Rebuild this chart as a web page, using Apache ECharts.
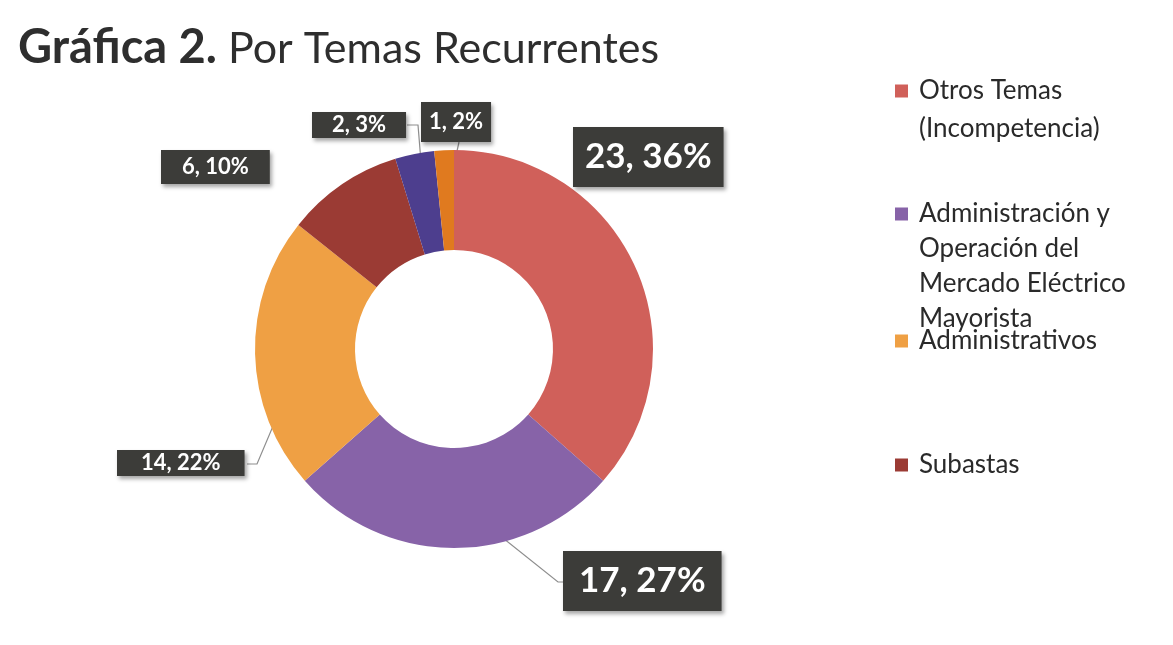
<!DOCTYPE html>
<html>
<head>
<meta charset="utf-8">
<script src="https://cdn.jsdelivr.net/npm/echarts@6/dist/echarts.min.js"></script>
<style>
  html, body { margin: 0; padding: 0; background: #fff; }
  #chart { width: 1173px; height: 645px; }
</style>
</head>
<body>
<div id="chart"></div>
<script>
// data
const categories = [
  'Otros Temas (Incompetencia)',
  'Administración y Operación del Mercado Eléctrico Mayorista',
  'Administrativos',
  'Subastas',
  'Tema 5',
  'Tema 6'
];
const values = [23, 17, 14, 6, 2, 1];
const sliceColors = ['#d0605a', '#8763a8', '#efa044', '#9b3b34', '#4d3e8e', '#e07a1f'];

// legend text as it wraps in the picture (only four entries are visible)
const legendLines = [
  ['Otros Temas', '(Incompetencia)'],
  ['Administración y', 'Operación del', 'Mercado Eléctrico', 'Mayorista'],
  ['Administrativos'],
  ['Subastas']
];

// layout only: first-line centres / line heights of legend entries, label boxes, leader bends
const legendY = [91, 214, 341, 465];
const legendLH = [38, 35, 35, 35];
const labelBoxes = [
  { left: 573, top: 127, pad: [10, 12], big: true },
  { left: 563, top: 551, pad: [10, 16], big: true, bend: [558, 582], end: [563, 582] },
  { left: 117, top: 450, pad: [2, 24], bend: [257, 464], end: [247, 464] },
  { left: 161, top: 150, pad: [6, 21] },
  { left: 312, top: 112, pad: [2, 20], bend: [418, 125], end: [407, 125] },
  { left: 421, top: 102, pad: [9, 8], bend: [459, 142], end: [459, 142] }
];

const CX = 454, CY = 349, R_OUT = 199, R_IN = 99;
const FONT = 'Lato, "Open Sans", sans-serif';
const ICON = 13;

const chart = echarts.init(document.getElementById('chart'));

const pieData = values.map((v, i) => {
  const b = labelBoxes[i];
  return {
    name: categories[i],
    value: v,
    itemStyle: { color: sliceColors[i] },
    label: {
      fontSize: b.big ? 35 : 22,
      lineHeight: b.big ? 40 : 22,
      padding: b.pad
    },
    labelLine: { show: !!b.bend }
  };
});

// square icon sits beside the first line; an invisible move-to stretches the icon box
// so that the (vertically centred) text block starts level with the square
const legends = legendLines.map((lines, i) => {
  const L = legendLH[i];
  const h = ICON + (lines.length - 1) * L;
  return {
    data: [{ name: categories[i], icon: 'path://M0,0L' + ICON + ',0L' + ICON + ',' + ICON + 'L0,' + ICON + 'ZM0,' + h }],
    left: 895,
    top: legendY[i] - L / 2,
    orient: 'vertical',
    padding: 0,
    itemWidth: ICON,
    itemHeight: h,
    selectedMode: false,
    formatter: () => lines.join('\n'),
    textStyle: {
      fontFamily: FONT,
      fontSize: 26,
      lineHeight: L,
      color: '#2a2a2a',
      padding: [0, 0, 0, 6]
    }
  };
});

chart.setOption({
  backgroundColor: '#ffffff',
  animation: false,
  title: {
    left: 13,
    top: 14,
    text: '{b|Gráfica 2.}{r| Por Temas Recurrentes}',
    textStyle: {
      rich: {
        b: { fontFamily: FONT, fontSize: 47, fontWeight: 'bold', color: '#2e2e2e', lineHeight: 52, verticalAlign: 'bottom' },
        r: { fontFamily: FONT, fontSize: 43, fontWeight: 'normal', color: '#2e2e2e', lineHeight: 52, verticalAlign: 'bottom' }
      }
    }
  },
  legend: legends,
  series: [{
    type: 'pie',
    center: [CX, CY],
    radius: [R_IN, R_OUT],
    startAngle: 90,
    clockwise: true,
    avoidLabelOverlap: false,
    percentPrecision: 0,
    data: pieData,
    label: {
      show: true,
      position: 'outside',
      formatter: '{c}, {d}%',
      fontFamily: FONT,
      fontWeight: 'bold',
      color: '#ffffff',
      backgroundColor: '#3c3c39',
      shadowColor: 'rgba(0,0,0,0.35)',
      shadowBlur: 4,
      shadowOffsetX: 2,
      shadowOffsetY: 3
    },
    labelLine: {
      lineStyle: { color: '#8e8e8e', width: 1.2 }
    },
    labelLayout: (params) => {
      const b = labelBoxes[params.dataIndex];
      const out = { x: b.left, y: b.top, align: 'left', verticalAlign: 'top' };
      if (b.bend && params.labelLinePoints) {
        const p0 = params.labelLinePoints[0];
        const k = 150 / R_OUT;
        const start = [CX + (p0[0] - CX) * k, CY + (p0[1] - CY) * k];
        out.labelLinePoints = [start, b.bend, b.end];
      }
      return out;
    },
    emphasis: { disabled: true }
  }]
});
</script>
</body>
</html>
